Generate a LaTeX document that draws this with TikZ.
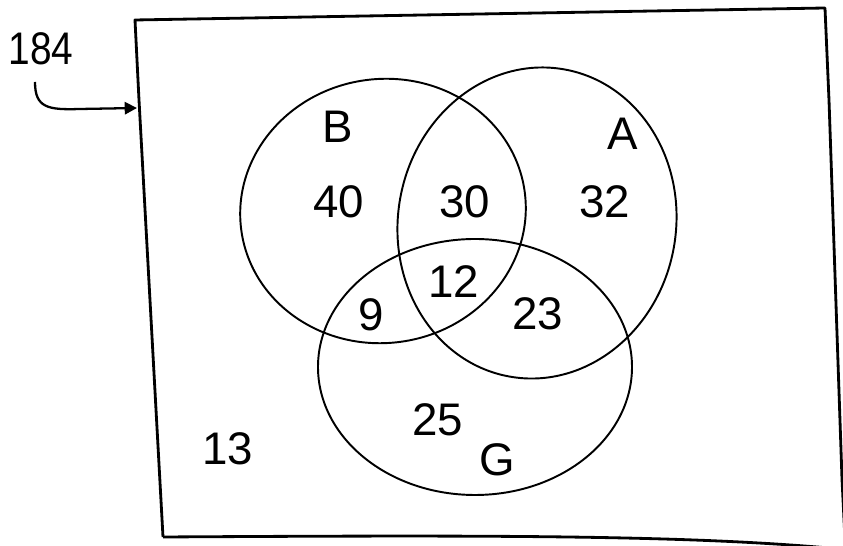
\documentclass[tikz,border=0pt]{standalone}
\usepackage{fontspec}
\setmainfont{Liberation Sans}
\usepackage{tikz}
\usetikzlibrary{arrows.meta,positioning}

\begin{document}
\begin{tikzpicture}[
  x=0.02cm, y=-0.02cm,
  every node/.style={font=\fontsize{26}{30}\selectfont, inner sep=0pt},
  frame/.style={line width=1.6pt, line join=round},
  setline/.style={line width=1.1pt},
  arrow/.style={-{Triangle[length=7pt,width=7pt]}, line width=1.3pt}
]
  \useasboundingbox (0,0) rectangle (843,546);
  \begin{scope}
    \clip (0,0) rectangle (843,546);
    % universe
    \draw[frame] (163,537) -- (139,100) -- (135,20) -- (825,8) -- (829,100) -- (842,479) -- (846,560);
    \draw[frame] (163,537) .. controls (500,535) and (700,535) .. (850,550);
  \end{scope}

  % the three sets
  \draw[setline, rotate around={8:(383,211)}] (383,211) ellipse [x radius=143, y radius=132];
  \draw[setline, rotate around={-10:(537,223)}] (537,223) ellipse [x radius=139, y radius=156];
  \draw[setline] (475,367) ellipse [x radius=157, y radius=128];

  \node[xscale=0.85] (lbl) at (41,49) {184};
  \coordinate (tail) at (35,82);
  \coordinate (tip) at (137,108);
  \draw[arrow] (tail) .. controls (35,108) and (48,110) .. (80,109) -- (tip);

  \node (setB) at (338,127) {B};
  \node (setA) at (623,134) {A};
  \node (setG) at (497,460) {G};
  \node (onlyB) at (339,202) {40};
  \node (ab) at (465,202) {30};
  \node (onlyA) at (605,202) {32};
  \node (abg) at (454,282) {12};
  \node (bg) at (371,315) {9};
  \node (ag) at (538,314) {23};
  \node (onlyG) at (438,420) {25};
  \node (none) at (228,449) {13};
\end{tikzpicture}
\end{document}
